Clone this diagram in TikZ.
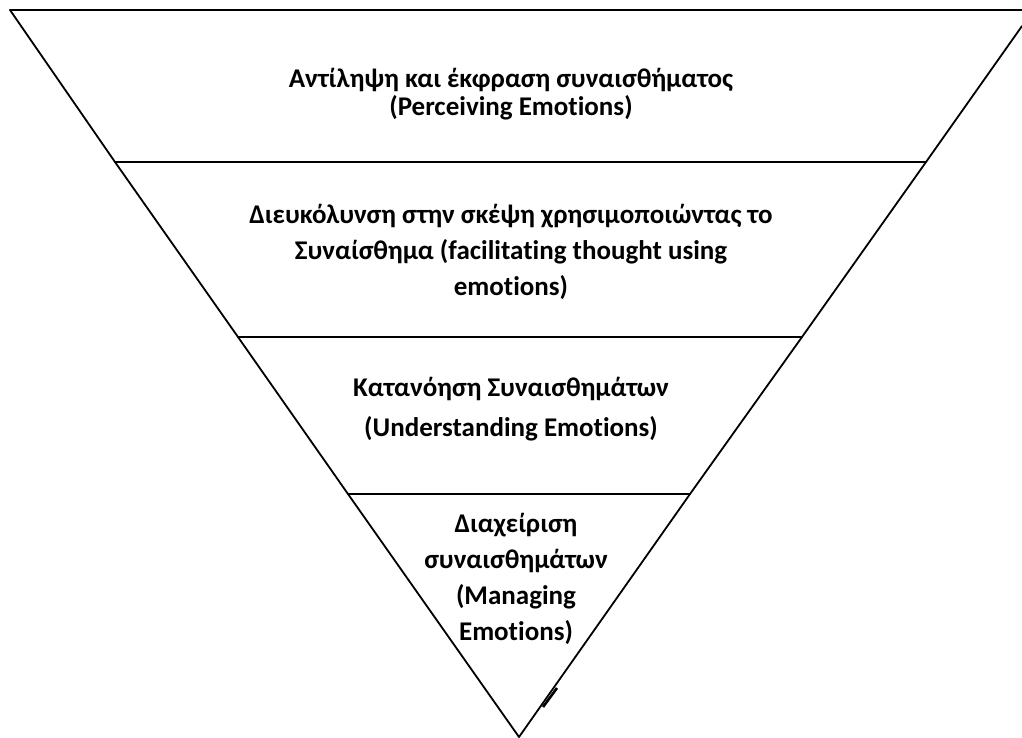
\documentclass[tikz,border=0pt]{standalone}
\usepackage{fontspec}
\setmainfont[Ligatures=NoCommon]{Carlito}
\begin{document}
\begin{tikzpicture}[x=1pt,y=-1pt,
  edge/.style={line width=1.8pt,line cap=round},
  tier/.style={align=center,font=\bfseries\fontsize{27}{36}\selectfont,inner sep=0pt}]
\useasboundingbox (0,0) rectangle (1022,737);
% outline of the funnel
\coordinate (tl) at (10,10);
\coordinate (tr) at (1022,10);
\coordinate (rt) at (1022,26);
\coordinate (apex) at (519,737);
% tier boundaries
\coordinate (a1) at (115,162); \coordinate (b1) at (926,162);
\coordinate (a2) at (238,337); \coordinate (b2) at (802,337);
\coordinate (a3) at (348,494); \coordinate (b3) at (690,494);
\draw[edge] (tl) -- (tr);
\draw[edge] (tl) -- (a1) -- (a2) -- (a3) -- (apex);
\draw[edge] (rt) -- (b1) -- (b2) -- (b3) -- (apex);
% thickened stretch of the lower right edge
\coordinate (s1) at (543,707); \coordinate (s2) at (557,688);
\draw[line width=2.6pt] (s1) -- (s2);
\draw[edge] (a1) -- (b1);
\draw[edge] (a2) -- (b2);
\draw[edge] (a3) -- (b3);
% tier labels
\node[tier,font=\bfseries\fontsize{27}{28}\selectfont] (t1) at (511,94)
  {Αντίληψη και έκφραση συναισθήματος\\(Perceiving Emotions)};
\node[tier] (t2) at (511,252)
  {Διευκόλυνση στην σκέψη χρησιμοποιώντας το\\Συναίσθημα (facilitating thought using\\emotions)};
\node[tier,font=\bfseries\fontsize{27}{40}\selectfont] (t3) at (511,409)
  {Κατανόηση Συναισθημάτων\\(Understanding Emotions)};
\node[tier,font=\bfseries\fontsize{27}{36}\selectfont] (t4) at (516,579)
  {Διαχείριση\\συναισθημάτων\\(Managing\\Emotions)};
\end{tikzpicture}
\end{document}
